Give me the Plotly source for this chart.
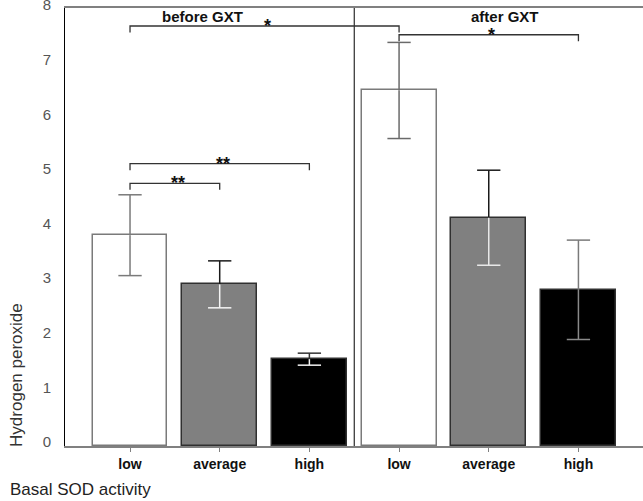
import plotly.graph_objects as go

# Hydrogen peroxide by basal SOD activity group, before and after the GXT
phases = ["before GXT", "after GXT"]
levels = ["low", "average", "high"]
before_mean = [3.86, 2.96, 1.59]
before_err = [0.74, 0.43, 0.11]
after_mean = [6.51, 4.18, 2.86]
after_err = [0.88, 0.87, 0.91]

# significance comparisons: (index a, index b, label) over the six bars
comparisons = [(0, 3, "*"), (0, 2, "**"), (0, 1, "**"), (3, 5, "*")]
bracket_height = [7.69, 5.17, 4.81, 7.53]

means = before_mean + after_mean
errs = before_err + after_err
xpos = list(range(len(means)))
ticktext = [f"<b>{t}</b>" for t in levels + levels]

FONT = "Liberation Sans, Arial, sans-serif"
fill = ["#ffffff", "#808080", "#000000"] * 2
edge = ["#7a7a7a", "#303030", "#303030"] * 2
err_up = ["#7a7a7a", "#1a1a1a", "#333333", "#6a6a6a", "#1a1a1a", "#7a7a7a"]
err_dn = ["#7a7a7a", "#f4f4f4", "#f4f4f4", "#6a6a6a", "#e8e8e8", "#8a8a8a"]
CAP = 0.13  # half-width of the error-bar caps, in x units

fig = go.Figure()
fig.add_trace(go.Bar(
    x=xpos, y=means, width=0.835,
    marker=dict(color=fill, line=dict(color=edge, width=1.5)),
    showlegend=False, hoverinfo="skip",
))

# error bars: the half above the bar top and the half inside the bar
# are stroked in different shades so both stay visible
for i in xpos:
    m, e = means[i], errs[i]
    for end, col in ((m + e, err_up[i]), (m - e, err_dn[i])):
        fig.add_trace(go.Scatter(
            x=[xpos[i], xpos[i], None, xpos[i] - CAP, xpos[i] + CAP],
            y=[m, end, None, end, end],
            mode="lines", line=dict(color=col, width=1.5),
            showlegend=False, hoverinfo="skip",
        ))

shapes = []
annotations = []
# divider between the two phases
shapes.append(dict(type="line", xref="x", yref="paper",
                   x0=(len(levels) - 0.5), x1=(len(levels) - 0.5), y0=0, y1=1,
                   line=dict(color="#000000", width=1)))

for (a, b, lab), h in zip(comparisons, bracket_height):
    drop = 0.12
    shapes.append(dict(type="path", xref="x", yref="y",
                       path=f"M {xpos[a]},{h - drop} L {xpos[a]},{h} L {xpos[b]},{h} L {xpos[b]},{h - drop}",
                       line=dict(color="#333333", width=1.3)))
    annotations.append(dict(x=(xpos[a] + xpos[b]) / 2, y=h, xref="x", yref="y",
                            text=f"<b>{lab}</b>", showarrow=False,
                            yanchor="middle", yshift=0, xshift=3,
                            font=dict(family=FONT, size=18, color="#111111")))

for label, xc in zip(phases, [0.81, 4.18]):
    annotations.append(dict(x=xc, y=1, xref="x", yref="paper", yanchor="top",
                            yshift=2, text=f"<b>{label}</b>", showarrow=False,
                            font=dict(family=FONT, size=15, color="#111111")))

annotations.append(dict(x=-0.098, y=-0.1, xref="paper", yref="paper",
                        xanchor="left", yanchor="middle",
                        text="Basal SOD activity", showarrow=False,
                        font=dict(family=FONT, size=17, color="#222222")))
annotations.append(dict(x=-0.085, y=0.162, xref="paper", yref="paper",
                        xanchor="center", yanchor="middle", textangle=-90,
                        text="Hydrogen peroxide", showarrow=False,
                        font=dict(family=FONT, size=17, color="#333333")))

fig.update_layout(
    width=643, height=501,
    margin=dict(l=65, r=0, t=8, b=55),
    paper_bgcolor="white", plot_bgcolor="white",
    font=dict(family=FONT),
    shapes=shapes, annotations=annotations,
    bargap=0,
    xaxis=dict(range=[-0.725, 5.72], tickvals=xpos, ticktext=ticktext,
               showgrid=False, zeroline=False, automargin=False,
               showline=True, linecolor="#808080", linewidth=1.5, mirror=True,
               ticks="outside", ticklen=4, tickcolor="#808080",
               tickfont=dict(family=FONT, size=14, color="#111111")),
    yaxis=dict(range=[0, 8.02], dtick=1, tick0=0, showgrid=False, zeroline=False,
               automargin=False,
               showline=True, linecolor="#000000", linewidth=1,
               ticks="", ticklabelstandoff=10, ticklabelshift=-4,
               ticklabeloverflow="allow",
               tickfont=dict(family=FONT, size=15, color="#555555")),
)

fig.write_html("out.html")
